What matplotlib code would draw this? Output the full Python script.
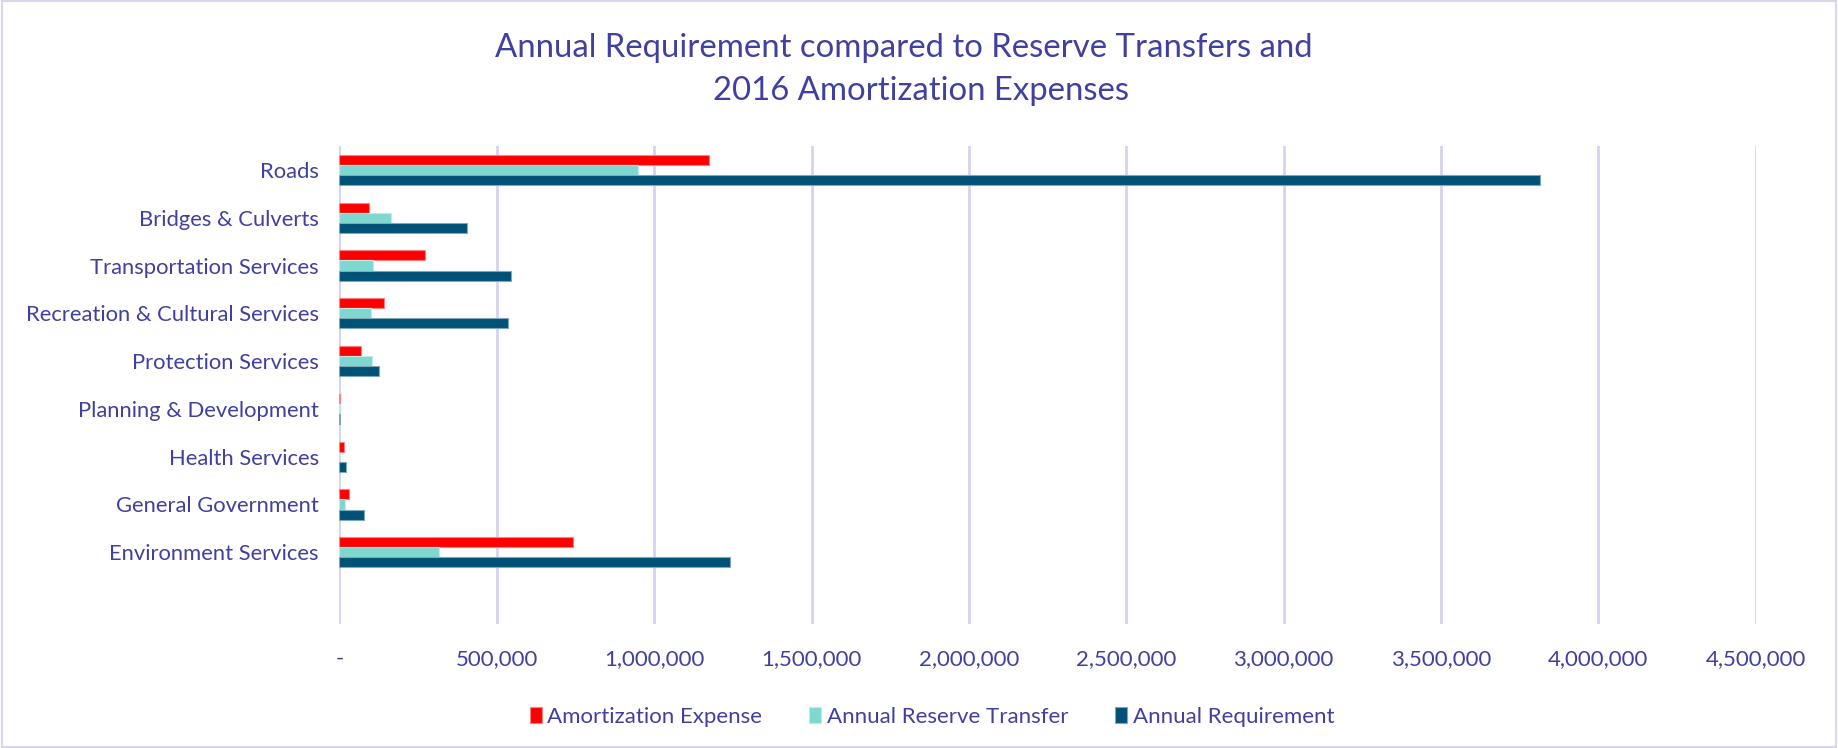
import numpy as np
import matplotlib.pyplot as plt
from matplotlib.ticker import FuncFormatter

plt.rcParams['font.family'] = ['Lato', 'DejaVu Sans']

# categories from bottom to top (as drawn)
categories = ["Environment Services", "General Government", "Health Services",
              "Planning & Development", "Protection Services",
              "Recreation & Cultural Services", "Transportation Services",
              "Bridges & Culverts", "Roads"]

amortization = [741500, 31000, 15000, 3000, 67000, 140000, 271000, 93000, 1175000]
reserve_transfer = [315600, 17000, 0, 2000, 102000, 100000, 106000, 164000, 948500]
requirement = [1240000, 78000, 20000, 3000, 126000, 537000, 543500, 406000, 3816000]

series_names = ["Amortization Expense", "Annual Reserve Transfer", "Annual Requirement"]
colors = ["#FF0000", "#7ED8D0", "#015176"]
edge_colors = ["#FF8080", "#BDEBE7", "#7FA8BA"]

text_color = "#4040A0"
grid_color = "#D6D3F0"


def fmt(v, pos):
    if v == 0:
        return "-"
    return f"{v:,.0f}"


fig = plt.figure(figsize=(18.38, 7.48), dpi=100)
ax = fig.add_axes([0.1847, 0.1658, 0.9552 - 0.1847, 0.8048 - 0.1658])

y = np.arange(len(categories))
h = 0.21
offsets = [h, 0, -h]
all_vals = [amortization, reserve_transfer, requirement]
for vals, off, c, ec, name in zip(all_vals, offsets, colors, edge_colors, series_names):
    ax.barh(y + off, vals, height=h, color=c, edgecolor=ec, linewidth=0.8,
            label=name, zorder=3)

ax.set_xlim(0, 4500000)
ax.set_ylim(-1.5, 8.5)
ax.set_xticks(np.arange(0, 4500001, 500000))
ax.xaxis.set_major_formatter(FuncFormatter(fmt))
ax.set_yticks(y)
ax.set_yticklabels(categories)

ax.grid(axis='x', color=grid_color, linewidth=2, zorder=0)
for s in ax.spines.values():
    s.set_visible(False)
ax.tick_params(axis='y', length=0, colors=text_color, labelsize=15.8, pad=15)
ax.tick_params(axis='x', length=0, colors=text_color, labelsize=16, pad=18)

fig.text(0.492, 0.9358, "Annual Requirement compared to Reserve Transfers and",
         color=text_color, fontsize=23.7, ha='center', va='center')
fig.text(0.501, 0.8783, "2016 Amortization Expenses",
         color=text_color, fontsize=23.7, ha='center', va='center')

handles, labels = ax.get_legend_handles_labels()
fig.legend(handles, labels, loc='center', bbox_to_anchor=(0.507, 0.042), ncol=3,
           frameon=False, fontsize=16, labelcolor=text_color,
           handlelength=0.55, handleheight=0.75, handletextpad=0.25, columnspacing=2.1)

# light frame around the chart
fig.patches.append(plt.Rectangle((0.001, 0.001), 0.998, 0.998, transform=fig.transFigure,
                                 fill=False, edgecolor="#D9D6EE", linewidth=1.5))

fig.savefig("out.png", dpi=100)
